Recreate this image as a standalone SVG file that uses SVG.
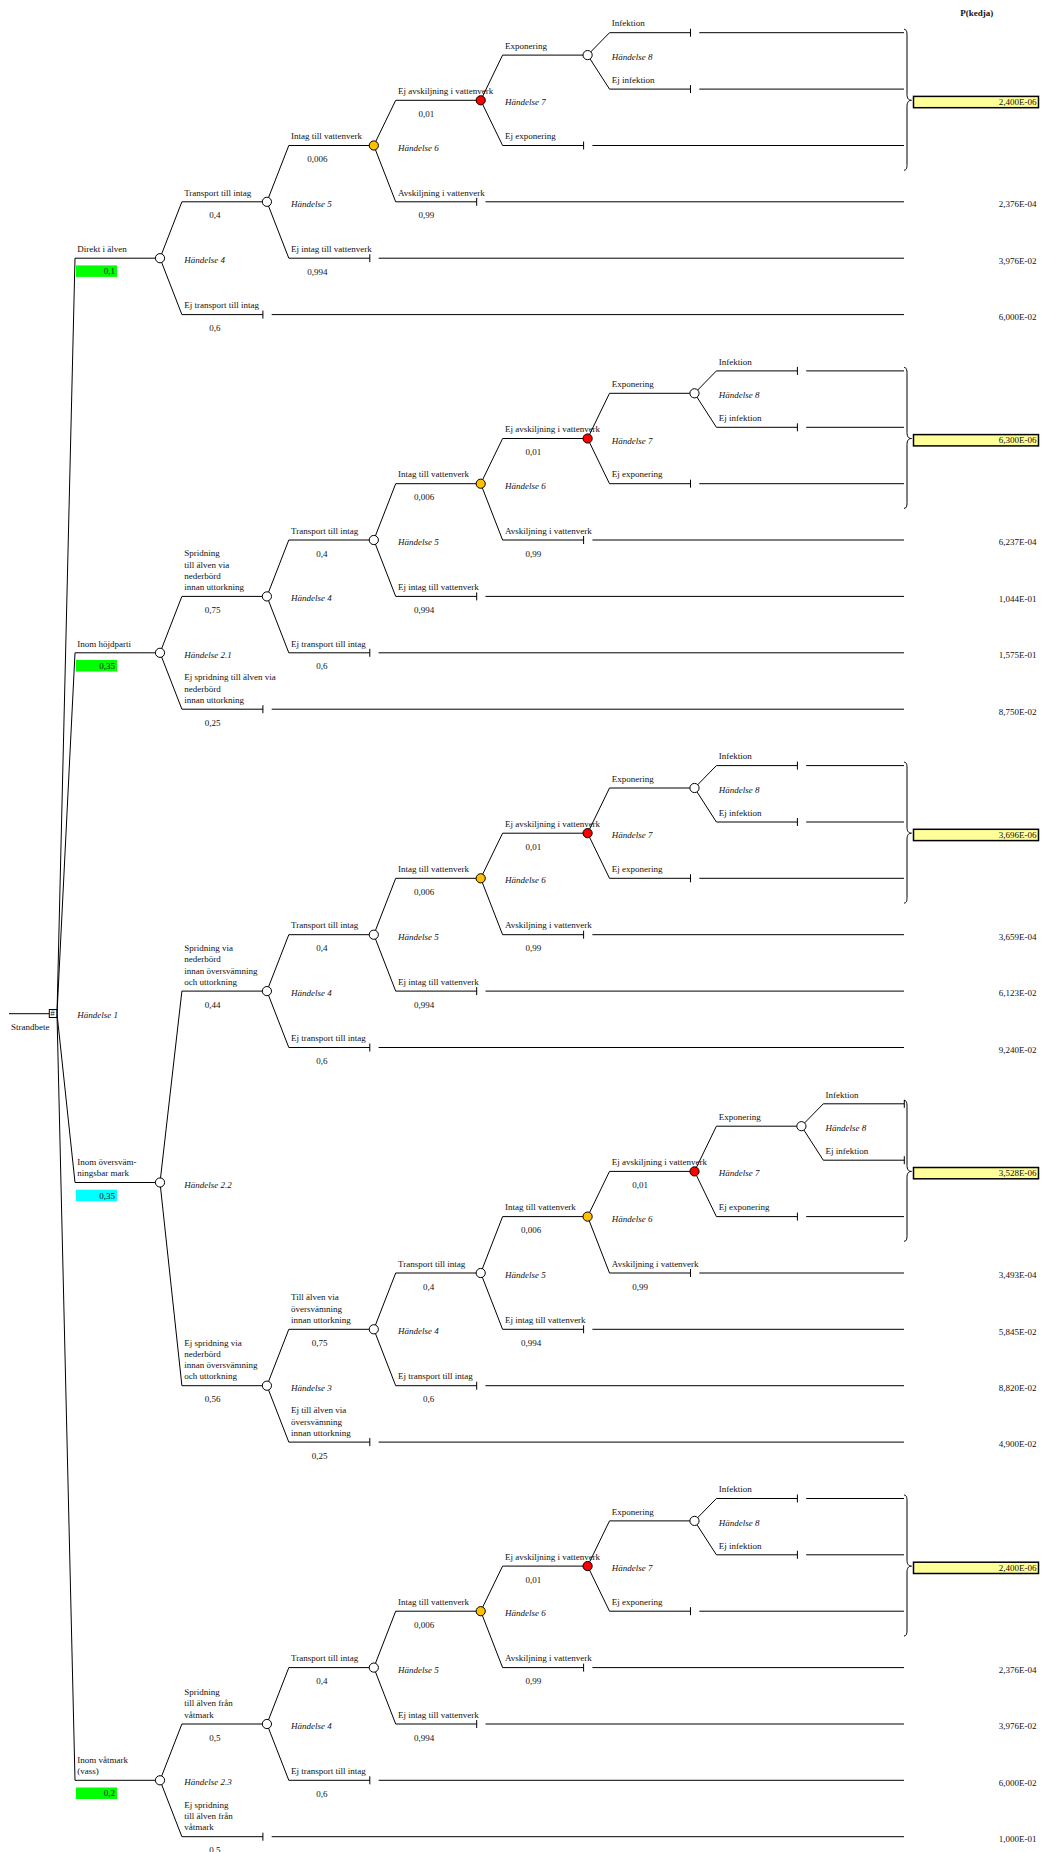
<svg xmlns="http://www.w3.org/2000/svg" width="1042" height="1852" viewBox="0 0 1042 1852">
<style>
.c{fill:none;stroke:#000;stroke-width:1}
.t{font-family:"Liberation Serif","Times New Roman",serif;font-size:9px;fill:#111}
.i{font-style:italic}
.e{text-anchor:end}
.b{font-weight:bold}
.n{fill:#fff;stroke:#000;stroke-width:1}
.ny{fill:#FFC000;stroke:#000;stroke-width:1}
.nr{fill:#FF0000;stroke:#000;stroke-width:1}
.res{fill:#FFFF99;stroke:#000;stroke-width:1.5}
.gr{fill:#00FF00}
.cy{fill:#00FFFF}
</style>
<rect width="1042" height="1852" fill="#fff"/>

<g id="connectors" class="c">
<path d="M9,1013.7 H49.3"/>
<path d="M57,1013.7 L75,258.2 H160 M57,1013.7 L75,652.8 H160 M57,1013.7 L75,1182.5 H160 M57,1013.7 L75,1780.3 H160"/>
<path d="M160,652.8 L181.9,596.4 H266.9 M160,652.8 L181.9,709.2 H262.9 M262.9,705.2 V713.2 M271.7,709.2 H904"/>
<path d="M160,1182.5 L181.9,991.1 H266.9 M160,1182.5 L181.9,1385.7 H266.9 M266.9,1385.7 L288.8,1329.3 H373.8 M266.9,1385.7 L288.8,1442.1 H369.8 M369.8,1438.1 V1446.1 M378.6,1442.1 H904"/>
<path d="M160,1780.3 L181.9,1724 H266.9 M160,1780.3 L181.9,1836.7 H262.9 M262.9,1832.7 V1840.7 M271.7,1836.7 H904"/>
<!-- A -->
<path d="M160,258.2 L181.9,201.8 H266.9 M160,258.2 L181.9,314.6 H262.9 M266.9,201.8 L288.8,145.5 H373.8 M266.9,201.8 L288.8,258.2 H369.8 M373.8,145.5 L395.7,100.3 H480.7 M373.8,145.5 L395.7,201.8 H476.7 M480.7,100.3 L502.6,55.1 H587.6 M480.7,100.3 L502.6,145.5 H583.6 M587.6,55.1 L609.5,32.7 H690.5 M587.6,55.1 L609.5,89.1 H690.5"/>
<path d="M262.9,310.6 V318.6 M369.8,254.2 V262.2 M476.7,197.8 V205.8 M583.6,141.5 V149.5 M690.5,28.7 V36.7 M690.5,85.1 V93.1"/>
<path d="M271.7,314.6 H904 M378.6,258.2 H904 M485.5,201.8 H904 M592.4,145.5 H904 M699.3,32.7 H904 M699.3,89.1 H904"/>
<path d="M904,29.3 C906.5,29.3 907,31.5 907,35.3 L907,94.3 C907,98.3 908.5,100.3 911.5,100.3 C908.5,100.3 907,102.3 907,106.3 L907,164.2 C907,168 906.5,170.2 904,170.2"/>
<!-- B -->
<path d="M266.9,596.4 L288.8,540 H373.8 M266.9,596.4 L288.8,652.8 H369.8 M373.8,540 L395.7,483.7 H480.7 M373.8,540 L395.7,596.4 H476.7 M480.7,483.7 L502.6,438.5 H587.6 M480.7,483.7 L502.6,540 H583.6 M587.6,438.5 L609.5,393.3 H694.5 M587.6,438.5 L609.5,483.7 H690.5 M694.5,393.3 L716.4,370.9 H797.4 M694.5,393.3 L716.4,427.3 H797.4"/>
<path d="M369.8,648.8 V656.8 M476.7,592.4 V600.4 M583.6,536 V544 M690.5,479.7 V487.7 M797.4,366.9 V374.9 M797.4,423.3 V431.3"/>
<path d="M378.6,652.8 H904 M485.5,596.4 H904 M592.4,540 H904 M699.3,483.7 H904 M806.2,370.9 H904 M806.2,427.3 H904"/>
<path d="M904,367.5 C906.5,367.5 907,369.7 907,373.5 L907,432.5 C907,436.5 908.5,438.5 911.5,438.5 C908.5,438.5 907,440.5 907,444.5 L907,502.4 C907,506.2 906.5,508.4 904,508.4"/>
<!-- C -->
<path d="M266.9,991.1 L288.8,934.7 H373.8 M266.9,991.1 L288.8,1047.5 H369.8 M373.8,934.7 L395.7,878.3 H480.7 M373.8,934.7 L395.7,991.1 H476.7 M480.7,878.3 L502.6,833.2 H587.6 M480.7,878.3 L502.6,934.7 H583.6 M587.6,833.2 L609.5,788 H694.5 M587.6,833.2 L609.5,878.3 H690.5 M694.5,788 L716.4,765.6 H797.4 M694.5,788 L716.4,822 H797.4"/>
<path d="M369.8,1043.5 V1051.5 M476.7,987.1 V995.1 M583.6,930.7 V938.7 M690.5,874.3 V882.3 M797.4,761.6 V769.6 M797.4,818 V826"/>
<path d="M378.6,1047.5 H904 M485.5,991.1 H904 M592.4,934.7 H904 M699.3,878.3 H904 M806.2,765.6 H904 M806.2,822 H904"/>
<path d="M904,762.2 C906.5,762.2 907,764.4 907,768.2 L907,827.2 C907,831.2 908.5,833.2 911.5,833.2 C908.5,833.2 907,835.2 907,839.2 L907,897.1 C907,900.9 906.5,903.1 904,903.1"/>
<!-- D -->
<path d="M373.8,1329.3 L395.7,1273 H480.7 M373.8,1329.3 L395.7,1385.7 H476.7 M480.7,1273 L502.6,1216.6 H587.6 M480.7,1273 L502.6,1329.3 H583.6 M587.6,1216.6 L609.5,1171.4 H694.5 M587.6,1216.6 L609.5,1273 H690.5 M694.5,1171.4 L716.4,1126.2 H801.4 M694.5,1171.4 L716.4,1216.6 H797.4 M801.4,1126.2 L823.3,1103.8 H904.3 M801.4,1126.2 L823.3,1160.2 H904.3"/>
<path d="M476.7,1381.7 V1389.7 M583.6,1325.3 V1333.3 M690.5,1269 V1277 M797.4,1212.6 V1220.6 M904.3,1099.8 V1107.8 M904.3,1156.2 V1164.2"/>
<path d="M485.5,1385.7 H904 M592.4,1329.3 H904 M699.3,1273 H904 M806.2,1216.6 H904"/>
<path d="M904,1100.4 C906.5,1100.4 907,1102.6 907,1106.4 L907,1165.4 C907,1169.4 908.5,1171.4 911.5,1171.4 C908.5,1171.4 907,1173.4 907,1177.4 L907,1235.3 C907,1239.1 906.5,1241.3 904,1241.3"/>
<!-- E -->
<path d="M266.9,1724 L288.8,1667.6 H373.8 M266.9,1724 L288.8,1780.3 H369.8 M373.8,1667.6 L395.7,1611.2 H480.7 M373.8,1667.6 L395.7,1724 H476.7 M480.7,1611.2 L502.6,1566.1 H587.6 M480.7,1611.2 L502.6,1667.6 H583.6 M587.6,1566.1 L609.5,1520.9 H694.5 M587.6,1566.1 L609.5,1611.2 H690.5 M694.5,1520.9 L716.4,1498.5 H797.4 M694.5,1520.9 L716.4,1554.8 H797.4"/>
<path d="M369.8,1776.3 V1784.3 M476.7,1720 V1728 M583.6,1663.6 V1671.6 M690.5,1607.2 V1615.2 M797.4,1494.5 V1502.5 M797.4,1550.8 V1558.8"/>
<path d="M378.6,1780.3 H904 M485.5,1724 H904 M592.4,1667.6 H904 M699.3,1611.2 H904 M806.2,1498.5 H904 M806.2,1554.8 H904"/>
<path d="M904,1495.1 C906.5,1495.1 907,1497.3 907,1501.1 L907,1560.1 C907,1564.1 908.5,1566.1 911.5,1566.1 C908.5,1566.1 907,1568.1 907,1572.1 L907,1630 C907,1633.8 906.5,1636 904,1636"/>
</g>

<text class="t b" x="976.7" y="16" text-anchor="middle">P(kedja)</text>

<g id="root">
<rect x="49.3" y="1009.5" width="7.5" height="8" fill="#fff" stroke="#000" stroke-width="1"/>
<text class="t" x="50.2" y="1016.3" font-size="6">#</text>
<text class="t" x="11" y="1030">Strandbete</text>
<text class="t i" x="77.3" y="1017.5">Händelse 1</text>
</g>

<!-- Block 1 -->
<g id="b1-h4">
<circle class="n" cx="160" cy="258.2" r="4.6"/>
<text class="t i" x="184.2" y="263.2">Händelse 4</text>
</g>
<g id="b1-h5"><circle class="n" cx="266.9" cy="201.8" r="4.6"/><text class="t i" x="291.1" y="206.8">Händelse 5</text></g>
<g id="b1-h6"><circle class="ny" cx="373.8" cy="145.5" r="4.6"/><text class="t i" x="398" y="150.5">Händelse 6</text></g>
<g id="b1-h7"><circle class="nr" cx="480.7" cy="100.3" r="4.6"/><text class="t i" x="504.9" y="105.3">Händelse 7</text></g>
<g id="b1-h8"><circle class="n" cx="587.6" cy="55.1" r="4.6"/><text class="t i" x="611.8" y="60.1">Händelse 8</text></g>
<g id="b1-labels" class="t">
<text x="77.3" y="251.9">Direkt i älven</text>
<rect class="gr" x="76" y="265.4" width="41" height="11.5"/>
<text class="e" x="115" y="274.2">0,1</text>
<text x="184.2" y="195.5">Transport till intag</text><text class="e" x="220.5" y="218.3">0,4</text>
<text x="184.2" y="308.3">Ej transport till intag</text><text class="e" x="220.5" y="331.1">0,6</text>
<text x="291.1" y="139.2">Intag till vattenverk</text><text class="e" x="327.4" y="162">0,006</text>
<text x="291.1" y="251.9">Ej intag till vattenverk</text><text class="e" x="327.4" y="274.7">0,994</text>
<text x="398" y="94">Ej avskiljning i vattenverk</text><text class="e" x="434.3" y="116.8">0,01</text>
<text x="398" y="195.5">Avskiljning i vattenverk</text><text class="e" x="434.3" y="218.3">0,99</text>
<text x="504.9" y="48.8">Exponering</text>
<text x="504.9" y="139.2">Ej exponering</text>
<text x="611.8" y="26.4">Infektion</text>
<text x="611.8" y="82.8">Ej infektion</text>
</g>
<g id="b1-results" class="t">
<rect class="res" x="913.5" y="96.4" width="125" height="11.3"/>
<text class="e" x="1036.5" y="105.2">2,400E-06</text>
<text class="e" x="1036.5" y="207.1">2,376E-04</text>
<text class="e" x="1036.5" y="263.5">3,976E-02</text>
<text class="e" x="1036.5" y="319.9">6,000E-02</text>
</g>

<!-- Block 2 -->
<g id="b2-h21"><circle class="n" cx="160" cy="652.8" r="4.6"/><text class="t i" x="184.2" y="657.8">Händelse 2.1</text></g>
<g id="b2-h4"><circle class="n" cx="266.9" cy="596.4" r="4.6"/><text class="t i" x="291.1" y="601.4">Händelse 4</text></g>
<g id="b2-h5"><circle class="n" cx="373.8" cy="540" r="4.6"/><text class="t i" x="398" y="545">Händelse 5</text></g>
<g id="b2-h6"><circle class="ny" cx="480.7" cy="483.7" r="4.6"/><text class="t i" x="504.9" y="488.7">Händelse 6</text></g>
<g id="b2-h7"><circle class="nr" cx="587.6" cy="438.5" r="4.6"/><text class="t i" x="611.8" y="443.5">Händelse 7</text></g>
<g id="b2-h8"><circle class="n" cx="694.5" cy="393.3" r="4.6"/><text class="t i" x="718.7" y="398.3">Händelse 8</text></g>
<g id="b2-labels" class="t">
<text x="77.3" y="646.5">Inom höjdparti</text>
<rect class="gr" x="76" y="660" width="41" height="11.5"/>
<text class="e" x="115" y="668.8">0,35</text>
<text x="184.2" y="556.3">Spridning</text>
<text x="184.2" y="567.6">till älven via</text>
<text x="184.2" y="578.9">nederbörd</text>
<text x="184.2" y="590.2">innan uttorkning</text>
<text class="e" x="220.5" y="613">0,75</text>
<text x="184.2" y="680.3">Ej spridning till älven via</text>
<text x="184.2" y="691.6">nederbörd</text>
<text x="184.2" y="702.9">innan uttorkning</text>
<text class="e" x="220.5" y="725.7">0,25</text>
<text x="291.1" y="533.7">Transport till intag</text><text class="e" x="327.4" y="556.5">0,4</text>
<text x="291.1" y="646.5">Ej transport till intag</text><text class="e" x="327.4" y="669.3">0,6</text>
<text x="398" y="477.4">Intag till vattenverk</text><text class="e" x="434.3" y="500.2">0,006</text>
<text x="398" y="590.1">Ej intag till vattenverk</text><text class="e" x="434.3" y="612.9">0,994</text>
<text x="504.9" y="432.2">Ej avskiljning i vattenverk</text><text class="e" x="541.2" y="455">0,01</text>
<text x="504.9" y="533.7">Avskiljning i vattenverk</text><text class="e" x="541.2" y="556.5">0,99</text>
<text x="611.8" y="387">Exponering</text>
<text x="611.8" y="477.4">Ej exponering</text>
<text x="718.7" y="364.6">Infektion</text>
<text x="718.7" y="421">Ej infektion</text>
</g>
<g id="b2-results" class="t">
<rect class="res" x="913.5" y="434.6" width="125" height="11.3"/>
<text class="e" x="1036.5" y="443.4">6,300E-06</text>
<text class="e" x="1036.5" y="545.3">6,237E-04</text>
<text class="e" x="1036.5" y="601.7">1,044E-01</text>
<text class="e" x="1036.5" y="658.1">1,575E-01</text>
<text class="e" x="1036.5" y="714.5">8,750E-02</text>
</g>

<!-- Block 3 -->
<g id="b3-h22"><circle class="n" cx="160" cy="1182.5" r="4.6"/><text class="t i" x="184.2" y="1187.5">Händelse 2.2</text></g>
<g id="b3a-h4"><circle class="n" cx="266.9" cy="991.1" r="4.6"/><text class="t i" x="291.1" y="996.1">Händelse 4</text></g>
<g id="b3a-h5"><circle class="n" cx="373.8" cy="934.7" r="4.6"/><text class="t i" x="398" y="939.7">Händelse 5</text></g>
<g id="b3a-h6"><circle class="ny" cx="480.7" cy="878.3" r="4.6"/><text class="t i" x="504.9" y="883.3">Händelse 6</text></g>
<g id="b3a-h7"><circle class="nr" cx="587.6" cy="833.2" r="4.6"/><text class="t i" x="611.8" y="838.2">Händelse 7</text></g>
<g id="b3a-h8"><circle class="n" cx="694.5" cy="788" r="4.6"/><text class="t i" x="718.7" y="793">Händelse 8</text></g>
<g id="b3b-h3"><circle class="n" cx="266.9" cy="1385.7" r="4.6"/><text class="t i" x="291.1" y="1390.7">Händelse 3</text></g>
<g id="b3b-h4"><circle class="n" cx="373.8" cy="1329.3" r="4.6"/><text class="t i" x="398" y="1334.3">Händelse 4</text></g>
<g id="b3b-h5"><circle class="n" cx="480.7" cy="1273" r="4.6"/><text class="t i" x="504.9" y="1278">Händelse 5</text></g>
<g id="b3b-h6"><circle class="ny" cx="587.6" cy="1216.6" r="4.6"/><text class="t i" x="611.8" y="1221.6">Händelse 6</text></g>
<g id="b3b-h7"><circle class="nr" cx="694.5" cy="1171.4" r="4.6"/><text class="t i" x="718.7" y="1176.4">Händelse 7</text></g>
<g id="b3b-h8"><circle class="n" cx="801.4" cy="1126.2" r="4.6"/><text class="t i" x="825.6" y="1131.2">Händelse 8</text></g>
<g id="b3-labels" class="t">
<text x="77.3" y="1165">Inom översväm-</text>
<text x="77.3" y="1176.2">ningsbar mark</text>
<rect class="cy" x="76" y="1189.7" width="41" height="11.5"/>
<text class="e" x="115" y="1198.5">0,35</text>
<text x="184.2" y="950.9">Spridning via</text>
<text x="184.2" y="962.2">nederbörd</text>
<text x="184.2" y="973.5">innan översvämning</text>
<text x="184.2" y="984.8">och uttorkning</text>
<text class="e" x="220.5" y="1007.6">0,44</text>
<text x="291.1" y="928.4">Transport till intag</text><text class="e" x="327.4" y="951.2">0,4</text>
<text x="291.1" y="1041.2">Ej transport till intag</text><text class="e" x="327.4" y="1064">0,6</text>
<text x="398" y="872">Intag till vattenverk</text><text class="e" x="434.3" y="894.8">0,006</text>
<text x="398" y="984.8">Ej intag till vattenverk</text><text class="e" x="434.3" y="1007.6">0,994</text>
<text x="504.9" y="826.9">Ej avskiljning i vattenverk</text><text class="e" x="541.2" y="849.7">0,01</text>
<text x="504.9" y="928.4">Avskiljning i vattenverk</text><text class="e" x="541.2" y="951.2">0,99</text>
<text x="611.8" y="781.7">Exponering</text>
<text x="611.8" y="872">Ej exponering</text>
<text x="718.7" y="759.3">Infektion</text>
<text x="718.7" y="815.7">Ej infektion</text>
<text x="184.2" y="1345.5">Ej spridning via</text>
<text x="184.2" y="1356.8">nederbörd</text>
<text x="184.2" y="1368.1">innan översvämning</text>
<text x="184.2" y="1379.4">och uttorkning</text>
<text class="e" x="220.5" y="1402.2">0,56</text>
<text x="291.1" y="1300.4">Till älven via</text>
<text x="291.1" y="1311.7">översvämning</text>
<text x="291.1" y="1323">innan uttorkning</text>
<text class="e" x="327.4" y="1345.8">0,75</text>
<text x="291.1" y="1413.2">Ej till älven via</text>
<text x="291.1" y="1424.5">översvämning</text>
<text x="291.1" y="1435.8">innan uttorkning</text>
<text class="e" x="327.4" y="1458.6">0,25</text>
<text x="398" y="1266.7">Transport till intag</text><text class="e" x="434.3" y="1289.5">0,4</text>
<text x="398" y="1379.4">Ej transport till intag</text><text class="e" x="434.3" y="1402.2">0,6</text>
<text x="504.9" y="1210.3">Intag till vattenverk</text><text class="e" x="541.2" y="1233.1">0,006</text>
<text x="504.9" y="1323">Ej intag till vattenverk</text><text class="e" x="541.2" y="1345.8">0,994</text>
<text x="611.8" y="1165.1">Ej avskiljning i vattenverk</text><text class="e" x="648.1" y="1187.9">0,01</text>
<text x="611.8" y="1266.7">Avskiljning i vattenverk</text><text class="e" x="648.1" y="1289.5">0,99</text>
<text x="718.7" y="1119.9">Exponering</text>
<text x="718.7" y="1210.3">Ej exponering</text>
<text x="825.6" y="1097.5">Infektion</text>
<text x="825.6" y="1153.9">Ej infektion</text>
</g>
<g id="b3-results" class="t">
<rect class="res" x="913.5" y="829.3" width="125" height="11.3"/>
<text class="e" x="1036.5" y="838.1">3,696E-06</text>
<text class="e" x="1036.5" y="940">3,659E-04</text>
<text class="e" x="1036.5" y="996.4">6,123E-02</text>
<text class="e" x="1036.5" y="1052.8">9,240E-02</text>
<rect class="res" x="913.5" y="1167.5" width="125" height="11.3"/>
<text class="e" x="1036.5" y="1176.3">3,528E-06</text>
<text class="e" x="1036.5" y="1278.3">3,493E-04</text>
<text class="e" x="1036.5" y="1334.6">5,845E-02</text>
<text class="e" x="1036.5" y="1391">8,820E-02</text>
<text class="e" x="1036.5" y="1447.4">4,900E-02</text>
</g>

<!-- Block 4 -->
<g id="b4-h23"><circle class="n" cx="160" cy="1780.3" r="4.6"/><text class="t i" x="184.2" y="1785.3">Händelse 2.3</text></g>
<g id="b4-h4"><circle class="n" cx="266.9" cy="1724" r="4.6"/><text class="t i" x="291.1" y="1729">Händelse 4</text></g>
<g id="b4-h5"><circle class="n" cx="373.8" cy="1667.6" r="4.6"/><text class="t i" x="398" y="1672.6">Händelse 5</text></g>
<g id="b4-h6"><circle class="ny" cx="480.7" cy="1611.2" r="4.6"/><text class="t i" x="504.9" y="1616.2">Händelse 6</text></g>
<g id="b4-h7"><circle class="nr" cx="587.6" cy="1566.1" r="4.6"/><text class="t i" x="611.8" y="1571.1">Händelse 7</text></g>
<g id="b4-h8"><circle class="n" cx="694.5" cy="1520.9" r="4.6"/><text class="t i" x="718.7" y="1525.9">Händelse 8</text></g>
<g id="b4-labels" class="t">
<text x="77.3" y="1762.7">Inom våtmark</text>
<text x="77.3" y="1774">(vass)</text>
<rect class="gr" x="76" y="1787.5" width="41" height="11.5"/>
<text class="e" x="115" y="1796.3">0,2</text>
<text x="184.2" y="1695.1">Spridning</text>
<text x="184.2" y="1706.4">till älven från</text>
<text x="184.2" y="1717.7">våtmark</text>
<text class="e" x="220.5" y="1740.5">0,5</text>
<text x="184.2" y="1807.8">Ej spridning</text>
<text x="184.2" y="1819.1">till älven från</text>
<text x="184.2" y="1830.4">våtmark</text>
<text class="e" x="220.5" y="1853.2">0,5</text>
<text x="291.1" y="1661.3">Transport till intag</text><text class="e" x="327.4" y="1684.1">0,4</text>
<text x="291.1" y="1774">Ej transport till intag</text><text class="e" x="327.4" y="1796.8">0,6</text>
<text x="398" y="1604.9">Intag till vattenverk</text><text class="e" x="434.3" y="1627.7">0,006</text>
<text x="398" y="1717.7">Ej intag till vattenverk</text><text class="e" x="434.3" y="1740.5">0,994</text>
<text x="504.9" y="1559.8">Ej avskiljning i vattenverk</text><text class="e" x="541.2" y="1582.6">0,01</text>
<text x="504.9" y="1661.3">Avskiljning i vattenverk</text><text class="e" x="541.2" y="1684.1">0,99</text>
<text x="611.8" y="1514.6">Exponering</text>
<text x="611.8" y="1604.9">Ej exponering</text>
<text x="718.7" y="1492.2">Infektion</text>
<text x="718.7" y="1548.5">Ej infektion</text>
</g>
<g id="b4-results" class="t">
<rect class="res" x="913.5" y="1562.2" width="125" height="11.3"/>
<text class="e" x="1036.5" y="1571">2,400E-06</text>
<text class="e" x="1036.5" y="1672.9">2,376E-04</text>
<text class="e" x="1036.5" y="1729.3">3,976E-02</text>
<text class="e" x="1036.5" y="1785.6">6,000E-02</text>
<text class="e" x="1036.5" y="1842">1,000E-01</text>
</g>
</svg>
